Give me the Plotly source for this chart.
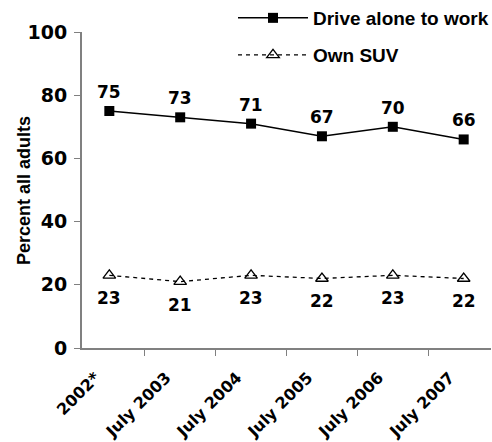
import plotly.graph_objects as go

categories = ["2002*", "July 2003", "July 2004", "July 2005", "July 2006", "July 2007"]
drive_alone = [75, 73, 71, 67, 70, 66]
own_suv = [23, 21, 23, 22, 23, 22]
y_ticks = [0, 20, 40, 60, 80, 100]

TXT = "Liberation Sans"
NUM = "DejaVu Sans"
H_PLOT = 442 - 94  # height of the paper area (t margin = 0)

def py(pix):
    return (H_PLOT - pix) / H_PLOT

def px(pix):
    return (pix - 82) / 409

fig = go.Figure()
fig.add_trace(go.Scatter(
    x=categories, y=drive_alone, name="<b>Drive alone to work</b>",
    mode="lines+markers",
    line=dict(color="black", width=1.5),
    marker=dict(symbol="square", size=10, color="black"),
    legend="legend",
))
fig.add_trace(go.Scatter(
    x=categories, y=own_suv, name="<b>Own SUV</b>",
    mode="lines+markers",
    line=dict(color="black", width=1.3, dash="4px,4px"),
    marker=dict(symbol="triangle-up-open", size=11, color="black", line=dict(width=1.3)),
    legend="legend2",
))

annotations = []
for c, v in zip(categories, drive_alone):
    annotations.append(dict(x=c, y=v, xref="x", yref="y", text=f"<b>{v}</b>", showarrow=False,
                            yshift=19, font=dict(size=17, family=NUM, color="black")))
for c, v in zip(categories, own_suv):
    annotations.append(dict(x=c, y=v, xref="x", yref="y", text=f"<b>{v}</b>", showarrow=False,
                            yshift=-23, font=dict(size=17, family=NUM, color="black")))
annotations.append(dict(x=px(24), y=py(191), xref="paper", yref="paper",
                        text="<b>Percent all adults</b>", textangle=-90, showarrow=False,
                        xanchor="center", yanchor="middle",
                        font=dict(size=18, family=TXT, color="black")))

leg_common = dict(xanchor="left", yanchor="middle", bgcolor="rgba(0,0,0,0)",
                  font=dict(size=19, family=TXT, color="black"),
                  itemwidth=70, borderwidth=0)
fig.update_layout(
    width=492, height=442,
    margin=dict(l=82, r=1, t=0, b=94, autoexpand=False),
    paper_bgcolor="white", plot_bgcolor="white",
    font=dict(family=TXT, color="black"),
    legend=dict(x=px(233), y=py(18), **leg_common),
    legend2=dict(x=px(233), y=py(55), **leg_common),
    showlegend=True,
    annotations=annotations,
    hovermode=False,
)
fig.update_xaxes(
    type="category", tickson="boundaries", ticks="outside", ticklen=6,
    tickcolor="#808080", showline=True, linecolor="#808080", linewidth=2,
    tickangle=-45, tickfont=dict(size=16, family=NUM, weight="bold"), showgrid=False,
    ticklabelshift=-14, ticklabelstandoff=12,
    automargin=False,
)
fig.update_yaxes(
    domain=[0, (H_PLOT - 32) / H_PLOT],
    range=[0, 100], tickvals=y_ticks, ticks="outside", ticklen=6,
    tickcolor="#808080", showline=True, linecolor="#808080", linewidth=2,
    tickfont=dict(size=19, family=NUM, weight="bold"), showgrid=False, zeroline=False,
    ticklabelstandoff=3,
    automargin=False,
)

fig.write_html("out.html", post_script="document.body.style.margin='0';",
               config={"displayModeBar": False})
